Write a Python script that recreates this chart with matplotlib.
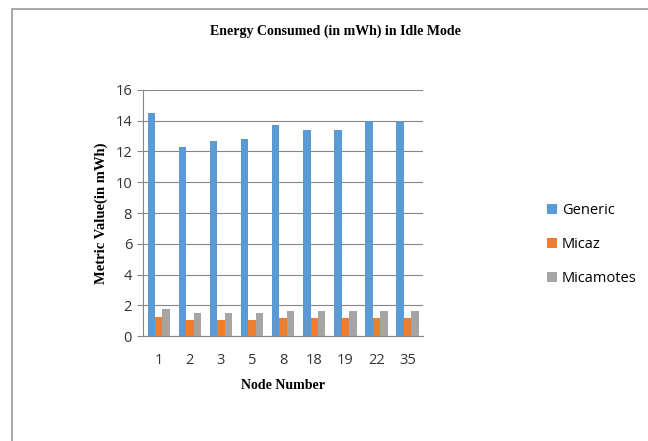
import numpy as np
import matplotlib.pyplot as plt

nodes = ['1', '2', '3', '5', '8', '18', '19', '22', '35']
generic = [14.5, 12.3, 12.7, 12.8, 13.75, 13.4, 13.4, 14.0, 14.0]
micaz = [1.25, 1.05, 1.05, 1.05, 1.15, 1.15, 1.15, 1.15, 1.15]
micamotes = [1.75, 1.5, 1.5, 1.5, 1.65, 1.6, 1.6, 1.65, 1.65]

fig = plt.figure(figsize=(6.48, 4.41), dpi=100)
ax = fig.add_axes([0.221, 0.238, 0.432, 0.558])

x = np.arange(len(nodes))
w = 0.24
ax.bar(x - w, generic, w, color='#5b9bd5', label='Generic', zorder=3)
ax.bar(x, micaz, w, color='#ed7d31', label='Micaz', zorder=3)
ax.bar(x + w, micamotes, w, color='#a5a5a5', label='Micamotes', zorder=3)

ax.set_ylim(0, 16)
ax.set_yticks(range(0, 17, 2))
ax.set_xlim(-0.5, len(nodes) - 0.5)
ax.set_xticks(x)
ax.set_xticklabels(nodes)
ax.yaxis.grid(True, color='#868686', linewidth=0.8, zorder=0)
for s in ['top', 'right']:
    ax.spines[s].set_visible(False)
for s in ['left', 'bottom']:
    ax.spines[s].set_color('#868686')
ax.tick_params(axis='x', length=0, labelsize=10.5, pad=12, labelcolor='#333333')
ax.tick_params(axis='y', length=4, color='#868686', labelsize=10.5, pad=4,
               labelcolor='#333333')
for lab in ax.get_xticklabels() + ax.get_yticklabels():
    lab.set_fontfamily('Open Sans')

serif = 'Liberation Serif'
ax.set_xlabel('Node Number', fontsize=10, fontweight='bold', family=serif, labelpad=8)
ax.set_ylabel('Metric Value(in mWh)', fontsize=10.5, fontweight='bold', family=serif,
              labelpad=5)
fig.text(0.518, 0.92, 'Energy Consumed (in mWh) in Idle Mode', ha='center',
         fontsize=10, fontweight='bold', family=serif)

fig.legend(loc='center left', bbox_to_anchor=(0.824, 0.446), frameon=False,
           prop={'family': 'Open Sans', 'size': 10.5}, handlelength=0.7,
           handleheight=0.7, handletextpad=0.3, labelspacing=1.3)

# chart frame, running off the right and bottom edges
fig.patches.append(plt.Rectangle((12 / 648, -0.05), 1.0, 1 - 9 / 441 + 0.05,
                                 transform=fig.transFigure, fill=False,
                                 edgecolor='#9a9a9a', linewidth=1.2))

fig.savefig('out.png', dpi=100)
